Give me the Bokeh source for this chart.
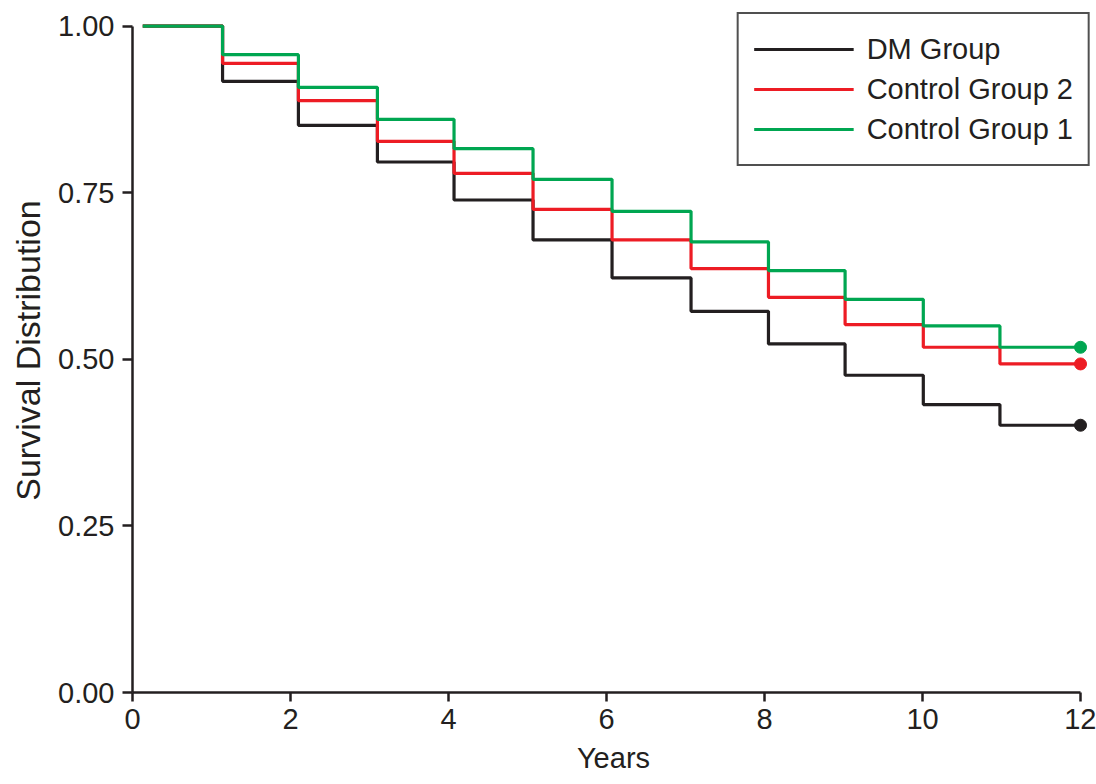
from bokeh.plotting import figure
from bokeh.models import Range1d, FixedTicker, PrintfTickFormatter, Legend, LegendItem
from bokeh.embed import file_html
from bokeh.resources import INLINE

# ---- data ----
years = [0.13, 1.14, 2.10, 3.10, 4.07, 5.07, 6.07, 7.07, 8.05, 9.02, 10.01, 10.98, 12.0]
dm_group = [1.0, 0.917, 0.851, 0.796, 0.739, 0.679, 0.622, 0.572, 0.523, 0.476, 0.432, 0.401]
control_2 = [1.0, 0.944, 0.888, 0.827, 0.779, 0.725, 0.679, 0.636, 0.593, 0.552, 0.518, 0.493]
control_1 = [1.0, 0.957, 0.908, 0.860, 0.816, 0.770, 0.722, 0.676, 0.633, 0.590, 0.550, 0.518]
series_names = ["DM Group", "Control Group 2", "Control Group 1"]
x_ticks = [0, 2, 4, 6, 8, 10, 12]
y_ticks = [0.0, 0.25, 0.50, 0.75, 1.00]

colors = ["#231f20", "#ed1c24", "#00a651"]
FONT = "Liberation Sans, Arial, sans-serif"
AX = "#231f20"

p = figure(width=1096, height=784, output_backend="svg", toolbar_location=None,
           x_range=Range1d(0, 12.177), y_range=Range1d(0, 1.0263),
           min_border_left=132, min_border_right=2, min_border_top=8, min_border_bottom=92)
p.outline_line_color = None
p.grid.visible = False
p.background_fill_color = "white"

items = []
for name, vals, col in zip(series_names, [dm_group, control_2, control_1], colors):
    ys = list(vals) + [vals[-1]]
    r = p.step(years, ys, mode="after", line_color=col, line_width=3.2)
    p.scatter([years[-1]], [vals[-1]], size=12, color=col)
    items.append(LegendItem(label=name, renderers=[r]))

legend = Legend(items=items, location="top_right")
legend.margin = 4
legend.padding = 15
legend.spacing = 0
legend.glyph_width = 100
legend.glyph_height = 40
legend.label_height = 40
legend.label_standoff = 13
legend.label_text_font = FONT
legend.label_text_font_size = "29px"
legend.label_text_color = AX
legend.border_line_color = "#505050"
legend.border_line_alpha = 1.0
legend.border_line_width = 2
legend.background_fill_alpha = 1.0
p.add_layout(legend, "center")

xa = p.xaxis[0]
ya = p.yaxis[0]
xa.bounds = (0, 12)
ya.bounds = (0, 1)
xa.ticker = FixedTicker(ticks=x_ticks)
ya.ticker = FixedTicker(ticks=y_ticks)
ya.formatter = PrintfTickFormatter(format="%.2f")
for a in (xa, ya):
    a.axis_line_color = AX
    a.axis_line_width = 2.5
    a.major_tick_line_color = AX
    a.major_tick_line_width = 2.5
    a.major_tick_in = 0
    a.minor_tick_line_color = None
    a.major_label_text_color = AX
    a.major_label_text_font = FONT
    a.major_label_text_font_size = "29px"
    a.axis_label_text_color = AX
    a.axis_label_text_font = FONT
    a.axis_label_text_font_style = "normal"
xa.major_tick_out = 9
ya.major_tick_out = 10
xa.major_label_standoff = 7
ya.major_label_standoff = 8
xa.axis_label = "Years"
xa.axis_label_text_font_size = "29px"
xa.axis_label_standoff = 10
ya.axis_label = "Survival Distribution"
ya.axis_label_text_font_size = "34px"
ya.axis_label_standoff = 8

open("out.html", "w").write(file_html(p, INLINE))
